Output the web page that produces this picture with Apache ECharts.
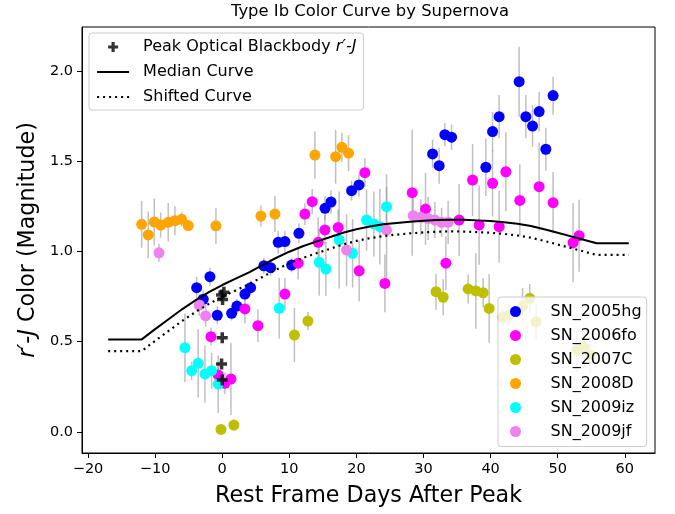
<!DOCTYPE html>
<html>
<head>
<meta charset="utf-8">
<script src="https://cdn.jsdelivr.net/npm/echarts@6/dist/echarts.min.js"></script>
<style>html,body{margin:0;padding:0;background:#fff}#c{width:675px;height:514px}</style>
</head>
<body>
<div id="c"></div>
<script>
// ---- data ----
const xTicks = [-20, -10, 0, 10, 20, 30, 40, 50, 60];
const yTicks = [0, 0.5, 1.0, 1.5, 2.0];
const snNames = ['SN_2005hg', 'SN_2006fo', 'SN_2007C', 'SN_2008D', 'SN_2009iz', 'SN_2009jf'];

const days_2005hg = [-3.81, -2.83, -1.83, -0.74, 1.40, 2.19, 3.38, 4.23, 6.21, 7.21, 8.34, 9.34, 10.34, 11.43, 15.32, 16.21, 19.28, 20.38, 31.35, 32.33, 33.18, 34.18, 39.29, 40.29, 41.27, 44.25, 45.25, 46.25, 47.23, 48.23, 49.31];
const color_2005hg = [0.800, 0.736, 0.861, 0.647, 0.658, 0.698, 0.765, 0.800, 0.922, 0.911, 1.052, 1.056, 0.926, 1.102, 1.241, 1.276, 1.339, 1.371, 1.543, 1.478, 1.650, 1.636, 1.469, 1.667, 1.750, 1.944, 1.750, 1.698, 1.778, 1.569, 1.867];
const err_2005hg = [0.06, 0.05, 0.05, 0.05, 0.04, 0.04, 0.04, 0.04, 0.045, 0.045, 0.065, 0.06, 0.04, 0.055, 0.065, 0.065, 0.055, 0.065, 0.08, 0.1, 0.065, 0.07, 0.16, 0.11, 0.12, 0.195, 0.12, 0.115, 0.11, 0.12, 0.105];

const days_2006fo = [-1.68, -0.60, 0.40, 1.30, 3.38, 5.32, 9.34, 11.32, 12.32, 13.41, 14.30, 15.30, 17.28, 20.41, 21.26, 24.24, 28.31, 30.30, 33.33, 35.31, 37.31, 38.29, 40.29, 41.27, 42.27, 44.35, 47.23, 49.31, 52.29, 53.19];
const color_2006fo = [0.528, 0.315, 0.269, 0.293, 0.682, 0.589, 0.765, 0.936, 1.209, 1.278, 1.052, 1.121, 1.135, 0.894, 1.439, 0.824, 1.328, 1.237, 0.936, 1.176, 1.398, 1.148, 1.380, 1.139, 1.444, 1.285, 1.361, 1.272, 1.050, 1.089];
const err_2006fo = [0.05, 0.05, 0.06, 0.2, 0.08, 0.09, 0.09, 0.09, 0.06, 0.07, 0.14, 0.08, 0.1, 0.17, 0.08, 0.16, 0.35, 0.2, 0.15, 0.2, 0.2, 0.22, 0.185, 0.2, 0.22, 0.2, 0.245, 0.17, 0.22, 0.2];

const days_2007C = [-0.19, 1.74, 10.76, 12.77, 31.86, 32.93, 36.65, 37.80, 38.89, 39.78, 41.78, 42.76, 44.76, 45.84, 46.78, 52.89, 53.89, 54.86];
const color_2007C = [0.013, 0.037, 0.537, 0.615, 0.778, 0.747, 0.793, 0.782, 0.772, 0.685, 0.636, 0.648, 0.698, 0.741, 0.611, 0.454, 0.472, 0.426];
const err_2007C = [0.02, 0.03, 0.15, 0.05, 0.1, 0.1, 0.08, 0.21, 0.08, 0.19, 0.05, 0.06, 0.1, 0.08, 0.1, 0.12, 0.12, 0.1];

const days_2008D = [-12.01, -11.03, -10.13, -9.18, -8.05, -7.05, -6.05, -5.07, -0.94, 5.77, 7.85, 13.81, 16.90, 17.83, 18.83];
const color_2008D = [1.152, 1.093, 1.165, 1.148, 1.163, 1.172, 1.180, 1.145, 1.144, 1.198, 1.209, 1.537, 1.528, 1.580, 1.547];
const err_2008D = [0.13, 0.13, 0.13, 0.07, 0.107, 0.08, 0.04, 0.03, 0.1, 0.06, 0.1, 0.13, 0.15, 0.08, 0.1];

const days_2009iz = [-5.56, -4.56, -3.58, -2.58, -1.58, -0.60, 8.49, 14.45, 15.45, 17.43, 19.43, 21.51, 22.60, 23.50, 24.49];
const color_2009iz = [0.467, 0.339, 0.380, 0.321, 0.339, 0.265, 0.686, 0.941, 0.904, 1.065, 0.991, 1.176, 1.154, 1.139, 1.250];
const err_2009iz = [0.19, 0.05, 0.19, 0.16, 0.1, 0.16, 0.17, 0.185, 0.15, 0.27, 0.19, 0.17, 0.18, 0.21, 0.11];

const days_2009jf = [-9.43, -3.43, -2.47, 18.53, 24.49, 28.46, 29.60, 30.69, 31.69, 32.69, 33.67];
const color_2009jf = [0.994, 0.704, 0.644, 1.009, 1.12, 1.20, 1.191, 1.185, 1.176, 1.163, 1.163];
const err_2009jf = [0.05, 0.06, 0.06, 0.2, 0.31, 0.1, 0.1, 0.12, 0.1, 0.08, 0.12];

const peakDays = [-0.1, 0.25, 0.05, 0.0, -0.1, 0.0];
const peakColor = [0.76, 0.775, 0.735, 0.522, 0.376, 0.287];

const curveDays = [-17.0, -12.0, -10, -8, -6, -4, -2, 0, 2, 4, 6, 8, 10, 12, 14, 16, 18, 20, 22, 24, 26, 28, 30, 32, 34, 36, 38, 40, 42, 44, 46, 48, 50, 52, 54, 55.8, 60.6];
const medianCurve = [0.513, 0.513, 0.57, 0.625, 0.68, 0.73, 0.775, 0.815, 0.85, 0.885, 0.925, 0.965, 1.0, 1.03, 1.056, 1.08, 1.105, 1.125, 1.14, 1.152, 1.16, 1.167, 1.172, 1.176, 1.178, 1.177, 1.174, 1.17, 1.164, 1.155, 1.143, 1.125, 1.105, 1.085, 1.065, 1.047, 1.047];
const shiftedCurve = [0.448, 0.448, 0.505, 0.56, 0.615, 0.665, 0.71, 0.75, 0.785, 0.82, 0.86, 0.9, 0.935, 0.965, 0.991, 1.015, 1.04, 1.06, 1.075, 1.087, 1.095, 1.102, 1.107, 1.111, 1.113, 1.112, 1.109, 1.105, 1.099, 1.09, 1.078, 1.06, 1.04, 1.02, 1.0, 0.982, 0.982];

// ---- build ----
const snData = [
  [days_2005hg, color_2005hg, err_2005hg, '#0000ff'],
  [days_2006fo, color_2006fo, err_2006fo, '#ff00ff'],
  [days_2007C, color_2007C, err_2007C, '#bfbf00'],
  [days_2008D, color_2008D, err_2008D, '#ffa500'],
  [days_2009iz, color_2009iz, err_2009iz, '#00ffff'],
  [days_2009jf, color_2009jf, err_2009jf, '#ee82ee']
];
const zip = (a, b) => a.map((v, i) => [v, b[i]]);
const FONT = 'DejaVu Sans';
const plusPath = 'path://M3.4,0H6.6V3.4H10V6.6H6.6V10H3.4V6.6H0V3.4H3.4Z';
const plusLegendPath = 'path://M-2,-2L-2,-2.01Z M12,12L12,12.01Z M3.4,0H6.6V3.4H10V6.6H6.6V10H3.4V6.6H0V3.4H3.4Z';
const peakName = 'Peak Optical Blackbody r′-J';

const series = [];
snData.forEach((s, k) => {
  series.push({
    name: snNames[k] + '_err', type: 'custom', z: 1, silent: true,
    data: s[0].map((v, i) => [v, s[1][i], s[2][i]]),
    renderItem: function (params, api) {
      const x = api.value(0), y = api.value(1), e = api.value(2);
      const p1 = api.coord([x, y - e]), p2 = api.coord([x, y + e]);
      return { type: 'line', shape: { x1: p1[0], y1: p1[1], x2: p2[0], y2: p2[1] },
        style: { stroke: 'rgba(140,140,140,0.55)', lineWidth: 1.5 } };
    }
  });
});
snData.forEach((s, k) => {
  series.push({
    name: snNames[k], type: 'scatter', z: 2 + k * 0.01, symbol: 'circle', symbolSize: 11,
    itemStyle: { color: s[3], opacity: 1 }, data: zip(s[0], s[1])
  });
});
series.push({
  name: 'Median Curve', type: 'line', z: 5, symbol: 'none', showSymbol: false,
  lineStyle: { color: '#000', width: 2 }, itemStyle: { color: '#000' },
  data: zip(curveDays, medianCurve)
});
series.push({
  name: 'Shifted Curve', type: 'line', z: 5, symbol: 'none', showSymbol: false,
  lineStyle: { color: '#000', width: 2.2, type: [2, 4] }, itemStyle: { color: '#000' },
  data: zip(curveDays, shiftedCurve)
});
series.push({
  name: peakName, type: 'scatter', z: 6, symbol: plusPath, symbolSize: 11,
  itemStyle: { color: '#000' }, data: zip(peakDays, peakColor)
});

const minus = v => (v < 0 ? '\u2212' + Math.abs(v) : String(v));

const option = {
  animation: false,
  backgroundColor: '#fff',
  textStyle: { fontFamily: FONT },
  title: {
    text: 'Type Ib Color Curve by Supernova', left: 365, top: -1, textAlign: 'center',
    textStyle: { fontFamily: FONT, fontSize: 16.4, fontWeight: 'normal', color: '#000' }
  },
  grid: { left: 82, right: 20, top: 27, bottom: 61, show: true, borderColor: '#000', borderWidth: 1, backgroundColor: 'transparent' },
  xAxis: {
    type: 'value', min: -20.9, max: 64.5,
    axisLine: { show: true, onZero: false, lineStyle: { color: '#000', width: 1 } },
    axisTick: { show: true, customValues: xTicks, length: 5, lineStyle: { color: '#000' } },
    axisLabel: { customValues: xTicks, formatter: v => minus(v), fontSize: 14.5, color: '#000', margin: 9, fontFamily: FONT },
    splitLine: { show: false },
    name: 'Rest Frame Days After Peak', nameLocation: 'middle', nameGap: 32,
    nameTextStyle: { fontSize: 22.2, color: '#000', fontFamily: FONT }
  },
  yAxis: {
    type: 'value', min: -0.118, max: 2.248,
    axisLine: { show: true, onZero: false, lineStyle: { color: '#000', width: 1 } },
    axisTick: { show: true, customValues: yTicks, length: 5, lineStyle: { color: '#000' } },
    axisLabel: { customValues: yTicks, formatter: v => v.toFixed(1), fontSize: 14.5, color: '#000', margin: 9, fontFamily: FONT },
    splitLine: { show: false },
    name: '{i|r′-J} Color (Magnitude)', nameLocation: 'middle', nameGap: 35,
    nameTextStyle: { fontSize: 22.2, color: '#000', fontFamily: FONT,
      rich: { i: { fontStyle: 'italic', fontSize: 22.2, color: '#000', fontFamily: FONT } } }
  },
  legend: [
    {
      orient: 'vertical', left: 89, top: 33, padding: [4.5, 7, 3.5, 7], itemGap: 6,
      itemWidth: 32, itemHeight: 14,
      backgroundColor: 'rgba(255,255,255,0.8)', borderColor: '#cccccc', borderWidth: 1, borderRadius: 3,
      data: [
        { name: peakName, icon: plusLegendPath },
        { name: 'Median Curve', itemStyle: { opacity: 0 }, lineStyle: { color: '#000', width: 2 } },
        { name: 'Shifted Curve', itemStyle: { opacity: 0 }, lineStyle: { color: '#000', width: 2.2, type: [2, 4] } }
      ],
      formatter: name => (name === peakName ? 'Peak Optical Blackbody {i|r′-J}' : name),
      textStyle: { fontSize: 16, color: '#000', fontFamily: FONT, lineHeight: 19, padding: [0, 0, 0, 9],
        rich: { i: { fontStyle: 'italic', fontSize: 16, fontFamily: FONT, color: '#000' } } },
      selectedMode: false
    },
    {
      orient: 'vertical', left: 498, top: 297, padding: [5, 5, 5.5, 12], itemGap: 5,
      itemWidth: 22, itemHeight: 11,
      backgroundColor: 'rgba(255,255,255,0.8)', borderColor: '#cccccc', borderWidth: 1, borderRadius: 3,
      data: snNames.map(n => ({ name: n, icon: 'circle' })),
      textStyle: { fontSize: 16, color: '#000', fontFamily: FONT, lineHeight: 19, padding: [0, 0, 0, 19] },
      selectedMode: false
    }
  ],
  series: series
};

const chart = echarts.init(document.getElementById('c'), null, { renderer: 'canvas' });
chart.setOption(option);
</script>
</body>
</html>
